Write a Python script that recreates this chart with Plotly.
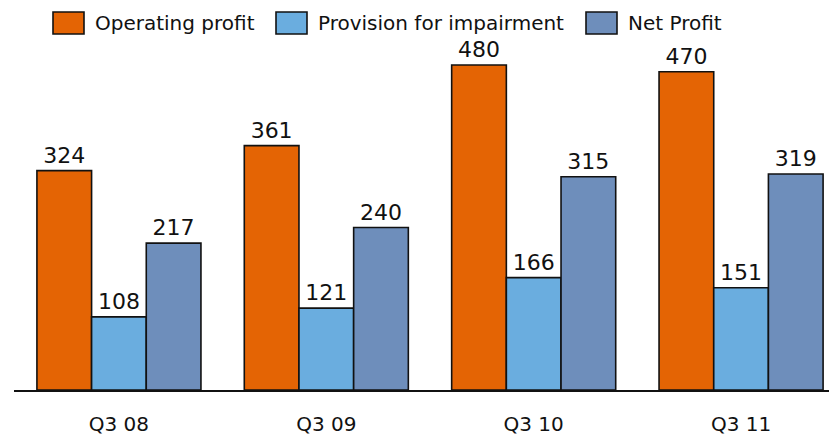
import plotly.graph_objects as go

categories = ["Q3 08", "Q3 09", "Q3 10", "Q3 11"]
series_names = ["Operating profit", "Provision for impairment", "Net Profit"]
operating_profit = [324, 361, 480, 470]
provision = [108, 121, 166, 151]
net_profit = [217, 240, 315, 319]
colors = ["#E46404", "#6AADDF", "#6E8EBB"]

W, H = 829, 435
ML, MR, MT, MB = 14, 0, 45, 45
FONT = "DejaVu Sans"

def px_x(p):
    return (p - ML) / (W - ML - MR)

def px_y(p):
    return (H - MB - p) / (H - MT - MB)

fig = go.Figure()
for name, vals, col in zip(series_names, [operating_profit, provision, net_profit], colors):
    fig.add_trace(go.Bar(
        x=categories, y=vals, name=name,
        marker=dict(color=col, line=dict(color="#111111", width=1.6)),
        text=[str(v) for v in vals], textposition="outside",
        textfont=dict(family=FONT, size=22, color="#111111"),
        cliponaxis=False, showlegend=False,
    ))

# manual legend
leg_x = [53, 276, 586]
shapes = []
annotations = []
for name, col, x0 in zip(series_names, colors, leg_x):
    shapes.append(dict(type="rect", xref="paper", yref="paper",
                       x0=px_x(x0), x1=px_x(x0 + 31), y0=px_y(34), y1=px_y(12),
                       fillcolor=col, line=dict(color="#111111", width=1.6)))
    annotations.append(dict(xref="paper", yref="paper", x=px_x(x0 + 40), y=px_y(23),
                            text=name, showarrow=False, xanchor="left", yanchor="middle",
                            font=dict(family=FONT, size=20, color="#111111")))

fig.update_layout(
    width=W, height=H,
    margin=dict(l=ML, r=MR, t=MT, b=MB),
    paper_bgcolor="white", plot_bgcolor="white",
    barmode="group", bargap=0.209, bargroupgap=0,
    shapes=shapes, annotations=annotations,
    font=dict(family=FONT, color="#111111"),
    hovermode=False,
    xaxis=dict(range=[-0.506, 3.424], showline=True, linecolor="#111111", linewidth=2,
               showgrid=False, ticks="", ticklabelstandoff=15, fixedrange=True,
               tickfont=dict(family=FONT, size=20, color="#111111")),
    yaxis=dict(range=[0, 509.6], visible=False, showgrid=False, fixedrange=True),
)

fig.write_html("out.html", config={"displayModeBar": False},
               post_script="document.body.style.margin='0';document.body.style.overflow='hidden';")
